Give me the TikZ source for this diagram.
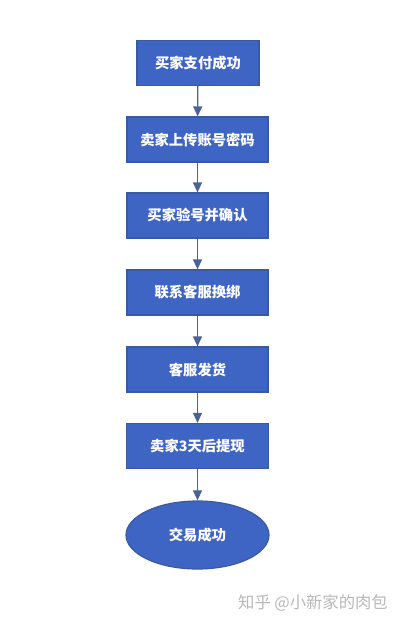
\documentclass[tikz,border=0pt]{standalone}
\usepackage{fontspec}
\setmainfont{Noto Sans CJK SC}
\usetikzlibrary{shapes.geometric,arrows.meta}
\definecolor{boxfill}{HTML}{3F65C4}
\definecolor{boxline}{HTML}{3A5A9E}
\definecolor{arrowc}{HTML}{4A6395}
\definecolor{wm}{HTML}{B8B8B8}
\begin{document}
\begin{tikzpicture}[x=1bp,y=-1bp,
  flowbox/.style={draw=boxline,line width=1.2bp,fill=boxfill,text=white,
    minimum height=45bp,inner sep=0pt,font=\fontsize{14.3bp}{17bp}\selectfont\bfseries},
  endnode/.style={ellipse,draw=boxline,line width=1.2bp,fill=boxfill,text=white,
    minimum width=143bp,minimum height=68bp,inner sep=0pt,font=\fontsize{14.3bp}{17bp}\selectfont\bfseries},
  flowarrow/.style={draw=arrowc,line width=1.3bp,-{Triangle[length=10bp,width=9bp]}}]
\useasboundingbox (0,0) rectangle (400,626);
\fill[white] (0,0) rectangle (400,626);
\node[flowbox,minimum width=122bp] (s1) at (198,63) {买家支付成功};
\node[flowbox,minimum width=141bp] (s2) at (197.5,139.5) {卖家上传账号密码};
\node[flowbox,minimum width=141bp] (s3) at (197.5,215.5) {买家验号并确认};
\node[flowbox,minimum width=141bp] (s4) at (197.5,292.5) {联系客服换绑};
\node[flowbox,minimum width=141bp] (s5) at (197.5,369.5) {客服发货};
\node[flowbox,minimum width=142bp] (s6) at (197.5,446) {卖家3天后提现};
\node[endnode] (s7) at (197.5,535) {交易成功};
\draw[flowarrow] (s1) -- (s2);
\draw[flowarrow] (s2) -- (s3);
\draw[flowarrow] (s3) -- (s4);
\draw[flowarrow] (s4) -- (s5);
\draw[flowarrow] (s5) -- (s6);
\draw[flowarrow] (s6) -- (s7);
\node[text=wm,font=\fontsize{16.3bp}{19bp}\selectfont,anchor=west,inner sep=0pt] (wmk) at (238,603) {知乎 @小新家的肉包};
\end{tikzpicture}
\end{document}
